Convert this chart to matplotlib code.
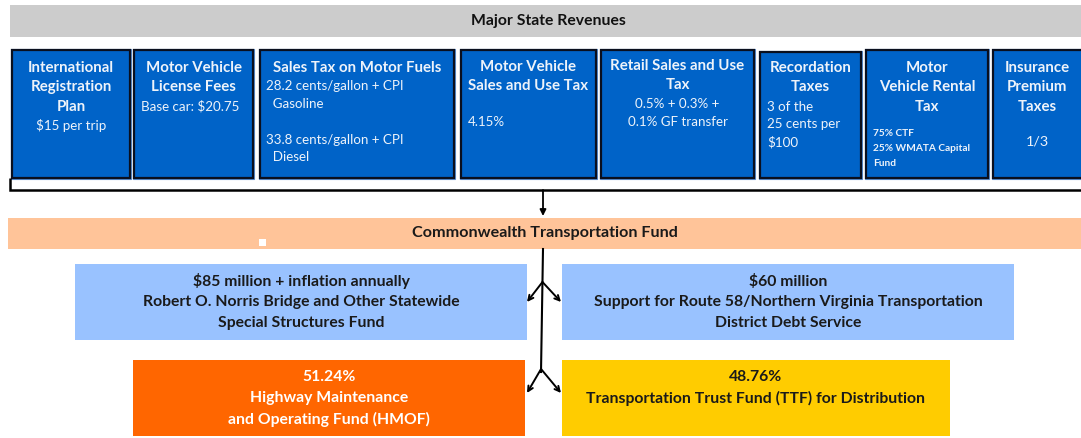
import matplotlib
matplotlib.use("Agg")
import matplotlib.pyplot as plt
from matplotlib.patches import Rectangle

plt.rcParams['font.family'] = ['Lato', 'DejaVu Sans']

# ---- content ----
header_title = "Major State Revenues"
revenue_titles = [
    "International\nRegistration\nPlan",
    "Motor Vehicle\nLicense Fees",
    "Sales Tax on Motor Fuels",
    "Motor Vehicle\nSales and Use Tax",
    "Retail Sales and Use\nTax",
    "Recordation\nTaxes",
    "Motor\nVehicle Rental\nTax",
    "Insurance\nPremium\nTaxes",
]
revenue_details = [
    ["$15 per trip"],
    ["Base car: $20.75"],
    ["28.2 cents/gallon + CPI", "  Gasoline", "", "33.8 cents/gallon + CPI", "  Diesel"],
    ["", "4.15%"],
    ["0.5% + 0.3% +", "0.1% GF transfer"],
    ["3 of the", "25 cents per", "$100"],
    ["75% CTF", "25% WMATA Capital", "Fund"],
    ["", "1/3"],
]
fund_title = "Commonwealth Transportation Fund"
set_aside_labels = [
    "$85 million + inflation annually\nRobert O. Norris Bridge and Other Statewide\nSpecial Structures Fund",
    "$60 million\nSupport for Route 58/Northern Virginia Transportation\nDistrict Debt Service",
]
split_shares = ["51.24%", "48.76%"]
split_labels = ["Highway Maintenance\nand Operating Fund (HMOF)",
                "Transportation Trust Fund (TTF) for Distribution"]

# ---- layout (pixels) ----
W, H = 1081, 438
fig = plt.figure(figsize=(W / 100, H / 100), dpi=100)
ax = fig.add_axes([0, 0, 1, 1])
ax.set_xlim(0, W)
ax.set_ylim(H, 0)
ax.axis('off')

def rect(x0, y0, x1, y1, fc, ec='none', lw=0, z=1):
    ax.add_patch(Rectangle((x0, y0), x1 - x0, y1 - y0, facecolor=fc,
                           edgecolor=ec, linewidth=lw, zorder=z))

TS = 10.8   # box title size
DS = 9.6    # box detail size
LS = 11.3   # lower boxes text size

# header bar
rect(10, 5, W + 2, 37, '#CCCCCC')
ax.text(548, 21, header_title, ha='center', va='center', fontsize=11.3,
        fontweight='bold', color='#111111')

# revenue boxes
box_x = [(12, 130), (134, 253), (260, 454), (461, 596), (601, 754),
         (760, 861), (866, 988), (993, 1090)]
box_top, box_bot = 50, 178
blue = '#0063C8'
txtc = '#EEF3FA'
lh = 19.3
for i, (x0, x1) in enumerate(box_x):
    top = box_top + (2 if i == 5 else 0)
    rect(x0 - 1, top - 1, x1 + 1, box_bot + 1, 'none', '#5A8FD0', 0.8, 2)
    rect(x0, top, x1, box_bot, blue, '#0A0F1E', 1.6, 3)
    cx = (x0 + min(x1, W)) / 2
    if i == 7:
        cx = 1037
    tl = revenue_titles[i].split('\n')
    y = 68 if i not in (3, 4) else 67
    if i == 4:
        y = 66
    for t in tl:
        ax.text(cx, y, t, ha='center', va='center', fontsize=TS,
                fontweight='bold', color=txtc, zorder=5)
        y += lh
    det = revenue_details[i]
    if i == 0:
        ax.text(cx, 125, det[0], ha='center', va='center', fontsize=DS, color=txtc, zorder=5)
    elif i == 1:
        ax.text(141, 106, det[0], ha='left', va='center', fontsize=DS, color=txtc, zorder=5)
    elif i == 2:
        ys = [86, 104, 122, 140, 157]
        for d, yy in zip(det, ys):
            ax.text(266, yy, d, ha='left', va='center', fontsize=DS, color=txtc, zorder=5)
    elif i == 3:
        ax.text(468, 122, det[1], ha='left', va='center', fontsize=DS, color=txtc, zorder=5)
    elif i == 4:
        for d, yy in zip(det, [104, 122]):
            ax.text(cx, yy, d, ha='center', va='center', fontsize=DS, color=txtc, zorder=5)
    elif i == 5:
        for d, yy in zip(det, [107, 124.5, 142]):
            ax.text(767, yy, d, ha='left', va='center', fontsize=DS, color=txtc, zorder=5)
    elif i == 6:
        for d, yy in zip(det, [134, 148.5, 163]):
            ax.text(873, yy, d, ha='left', va='center', fontsize=7.3,
                    fontweight='bold', color=txtc, zorder=5)
    elif i == 7:
        ax.text(cx, 142, det[1], ha='center', va='center', fontsize=10.3, color=txtc, zorder=5)

# bracket
ax.plot([9.5, 9.5, W + 2], [178, 190, 190], color='black', lw=1.8,
        solid_capstyle='butt', solid_joinstyle='miter', zorder=4)
ax.annotate('', xy=(543, 216), xytext=(543, 190),
            arrowprops=dict(arrowstyle='-|>', color='black', lw=1.3,
                            mutation_scale=9, shrinkA=0, shrinkB=0))

# CTF bar
rect(8, 218, W + 2, 249, '#FFC499')
rect(259, 239, 266, 246, 'white', z=2)
ax.text(545, 233, fund_title, ha='center', va='center', fontsize=11.6,
        fontweight='bold', color='#1A1A1A')

# set-aside boxes
sa_x = [(75, 527), (562, 1014)]
for (x0, x1), lab in zip(sa_x, set_aside_labels):
    rect(x0, 264, x1, 340, '#99C2FF')
    for k, t in enumerate(lab.split('\n')):
        ax.text((x0 + x1) / 2, 281 + 21 * k, t, ha='center', va='center',
                fontsize=LS, fontweight='bold', color='#1A1A1A')

# split boxes
sp_x = [(133, 525), (562, 950)]
sp_fc = ['#FF6600', '#FFCC00']
sp_tc = ['#FFFFFF', '#1A1A1A']
for j, (x0, x1) in enumerate(sp_x):
    rect(x0, 360, x1, 436, sp_fc[j])
    lines = [split_shares[j]] + split_labels[j].split('\n')
    for k, t in enumerate(lines):
        ax.text((x0 + x1) / 2, 377 + 21 * k, t, ha='center', va='center',
                fontsize=LS, fontweight='bold', color=sp_tc[j])

# flow lines
ax.plot([543, 541], [249, 372], color='black', lw=1.5, zorder=4)
for yb, ye in [(282, 302), (369, 393)]:
    xb = 543 - 2 * (yb - 249) / 123
    for xe in (527, 561):
        ax.annotate('', xy=(xe, ye), xytext=(xb, yb),
                    arrowprops=dict(arrowstyle='->', color='black', lw=1.4,
                                    mutation_scale=9, shrinkA=0, shrinkB=0))

fig.savefig('out.png', dpi=100)
